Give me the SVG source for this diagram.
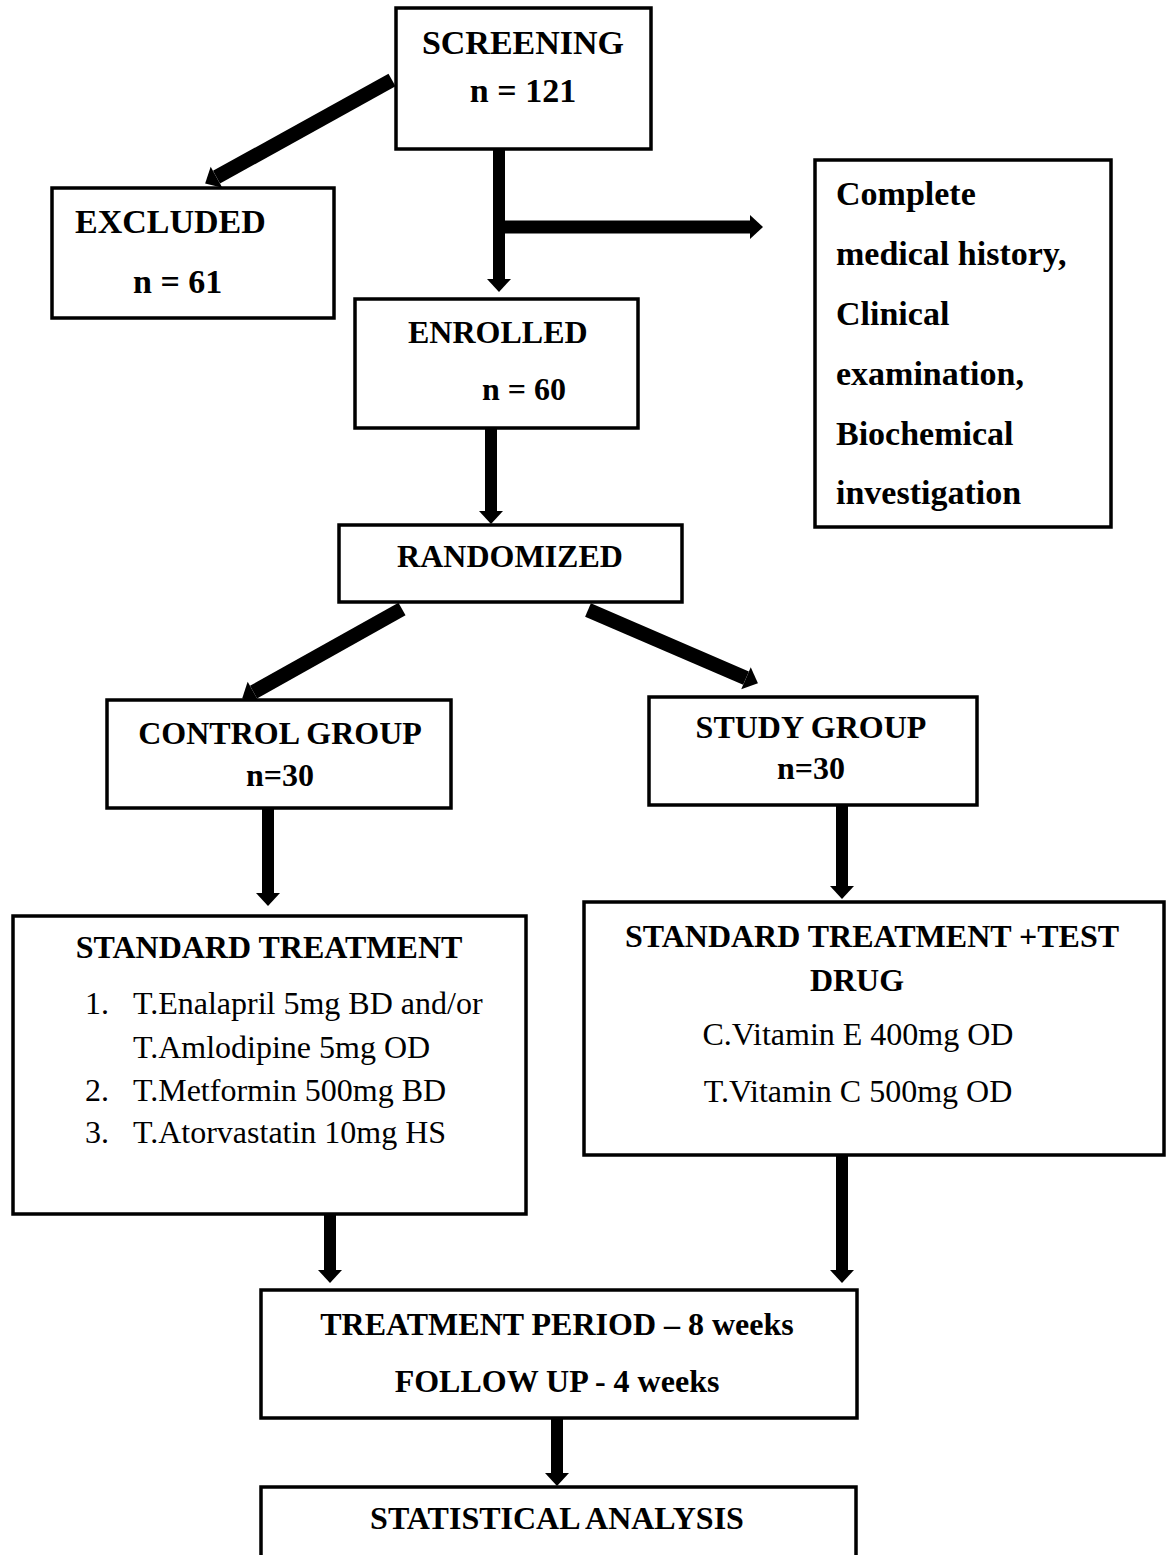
<svg xmlns="http://www.w3.org/2000/svg" width="1171" height="1555" viewBox="0 0 1171 1555">
<style>
.box{fill:#fff;stroke:#000;stroke-width:3.5}
.b{font-family:"Liberation Serif","Times New Roman",serif;font-weight:bold;font-size:32px;fill:#000}
.bl{font-family:"Liberation Serif","Times New Roman",serif;font-weight:bold;font-size:34px;fill:#000}
.r{font-family:"Liberation Serif","Times New Roman",serif;font-size:32px;fill:#000}
.c{text-anchor:middle}
.arr{stroke:#000;stroke-width:12;fill:none;marker-end:url(#ah)}
.diag{stroke-width:14.5}
</style>
<defs>
<marker id="ah" markerUnits="userSpaceOnUse" markerWidth="14" markerHeight="26" refX="0" refY="13" orient="auto" overflow="visible">
<path d="M0,1 L13,13 L0,25 Z" fill="#000"/>
</marker>
</defs>
<rect width="1171" height="1555" fill="#fff"/>
<g id="connectors">
<line class="arr diag" x1="392" y1="80" x2="216.5" y2="177.2"/>
<line class="arr" x1="499" y1="149" x2="499" y2="279"/>
<line class="arr" x1="493" y1="227" x2="750" y2="227" style="stroke-width:13"/>
<line class="arr" x1="491" y1="428" x2="491" y2="511"/>
<line class="arr diag" x1="402" y1="609" x2="253.5" y2="692.1"/>
<line class="arr diag" x1="588" y1="610" x2="746" y2="678.2"/>
<line class="arr" x1="268" y1="808" x2="268" y2="893"/>
<line class="arr" x1="842" y1="805" x2="842" y2="886"/>
<line class="arr" x1="330" y1="1214" x2="330" y2="1270"/>
<line class="arr" x1="842" y1="1155" x2="842" y2="1270"/>
<line class="arr" x1="557" y1="1418" x2="557" y2="1473"/>
</g>
<g id="screening">
<rect class="box" x="396" y="8" width="255" height="141"/>
<text class="bl c" x="523" y="54">SCREENING</text>
<text class="bl c" x="523" y="102">n = 121</text>
</g>
<g id="excluded">
<rect class="box" x="52" y="188" width="282" height="130"/>
<text class="bl" x="75" y="233">EXCLUDED</text>
<text class="bl" x="133" y="293">n = 61</text>
</g>
<g id="assessment">
<rect class="box" x="815" y="160" width="296" height="367"/>
<text class="bl" x="836" y="205">Complete</text>
<text class="bl" x="836" y="265">medical history,</text>
<text class="bl" x="836" y="325">Clinical</text>
<text class="bl" x="836" y="385">examination,</text>
<text class="bl" x="836" y="445">Biochemical</text>
<text class="bl" x="836" y="504">investigation</text>
</g>
<g id="enrolled">
<rect class="box" x="355" y="299" width="283" height="129"/>
<text class="b" x="408" y="343">ENROLLED</text>
<text class="b" x="482" y="400">n = 60</text>
</g>
<g id="randomized">
<rect class="box" x="339" y="525" width="343" height="77"/>
<text class="b c" x="510" y="567">RANDOMIZED</text>
</g>
<g id="control">
<rect class="box" x="107" y="700" width="344" height="108"/>
<text class="b c" x="280" y="744">CONTROL GROUP</text>
<text class="b c" x="280" y="786">n=30</text>
</g>
<g id="study">
<rect class="box" x="649" y="697" width="328" height="108"/>
<text class="b c" x="811" y="738">STUDY GROUP</text>
<text class="b c" x="811" y="779">n=30</text>
</g>
<g id="standard">
<rect class="box" x="13" y="916" width="513" height="298"/>
<text class="b c" x="269" y="958">STANDARD TREATMENT</text>
<text class="r" x="85" y="1014">1.</text>
<text class="r" x="133" y="1014">T.Enalapril 5mg BD and/or</text>
<text class="r" x="133" y="1058">T.Amlodipine 5mg OD</text>
<text class="r" x="85" y="1101">2.</text>
<text class="r" x="133" y="1101">T.Metformin 500mg BD</text>
<text class="r" x="85" y="1143">3.</text>
<text class="r" x="133" y="1143">T.Atorvastatin 10mg HS</text>
</g>
<g id="standard-test">
<rect class="box" x="584" y="902" width="580" height="253"/>
<text class="b c" x="872" y="947">STANDARD TREATMENT +TEST</text>
<text class="b c" x="857" y="991">DRUG</text>
<text class="r c" x="858" y="1045">C.Vitamin E 400mg OD</text>
<text class="r c" x="858" y="1102">T.Vitamin C 500mg OD</text>
</g>
<g id="treatment">
<rect class="box" x="261" y="1290" width="596" height="128"/>
<text class="b c" x="557" y="1335">TREATMENT PERIOD – 8 weeks</text>
<text class="b c" x="557" y="1392">FOLLOW UP - 4 weeks</text>
</g>
<g id="statistical">
<rect class="box" x="261" y="1487" width="595" height="100"/>
<text class="b c" x="557" y="1529">STATISTICAL ANALYSIS</text>
</g>
</svg>
